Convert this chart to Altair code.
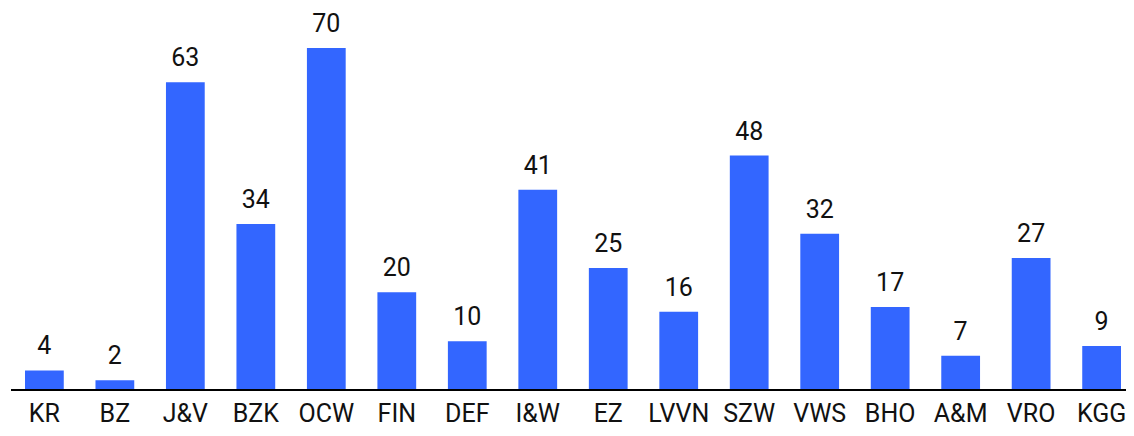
import altair as alt
import pandas as pd

categories = ["KR", "BZ", "J&V", "BZK", "OCW", "FIN", "DEF", "I&W", "EZ", "LVVN", "SZW", "VWS", "BHO", "A&M", "VRO", "KGG"]
values = [4, 2, 63, 34, 70, 20, 10, 41, 25, 16, 48, 32, 17, 7, 27, 9]

df = pd.DataFrame({"cat": categories, "val": values})

W = 1115
H = 381
x = alt.X("cat:N", sort=categories, title=None,
          scale=alt.Scale(paddingInner=0.45, paddingOuter=0, range=[14, 1110]),
          axis=alt.Axis(labelAngle=0, ticks=False, domain=False,
                        labelFont="Roboto", labelFontSize=25, labelColor="#111111",
                        labelPadding=11, grid=False))
y = alt.Y("val:Q", title=None, scale=alt.Scale(domain=[0, 78], nice=False), axis=None)

bars = alt.Chart(df).mark_bar(color="#3366FF").encode(x=x, y=y)
labels = alt.Chart(df).mark_text(baseline="bottom", dy=-11, font="Roboto", fontSize=25, color="#111111").encode(
    x=alt.X("cat:N", sort=categories), y="val:Q", text="val:Q")
baseline = alt.Chart(df).mark_rule(color="#000000", strokeWidth=2).encode(
    x=alt.value(0), x2=alt.value(W), y=alt.datum(0))

chart = alt.layer(bars, labels, baseline).properties(
    width=W, height=H,
    autosize=alt.AutoSizeParams(type="none"),
    padding={"left": 3, "top": 1, "right": 0, "bottom": 38}
).configure_view(stroke=None)

chart.save("out.html", embed_options={"renderer": "svg", "actions": False})
